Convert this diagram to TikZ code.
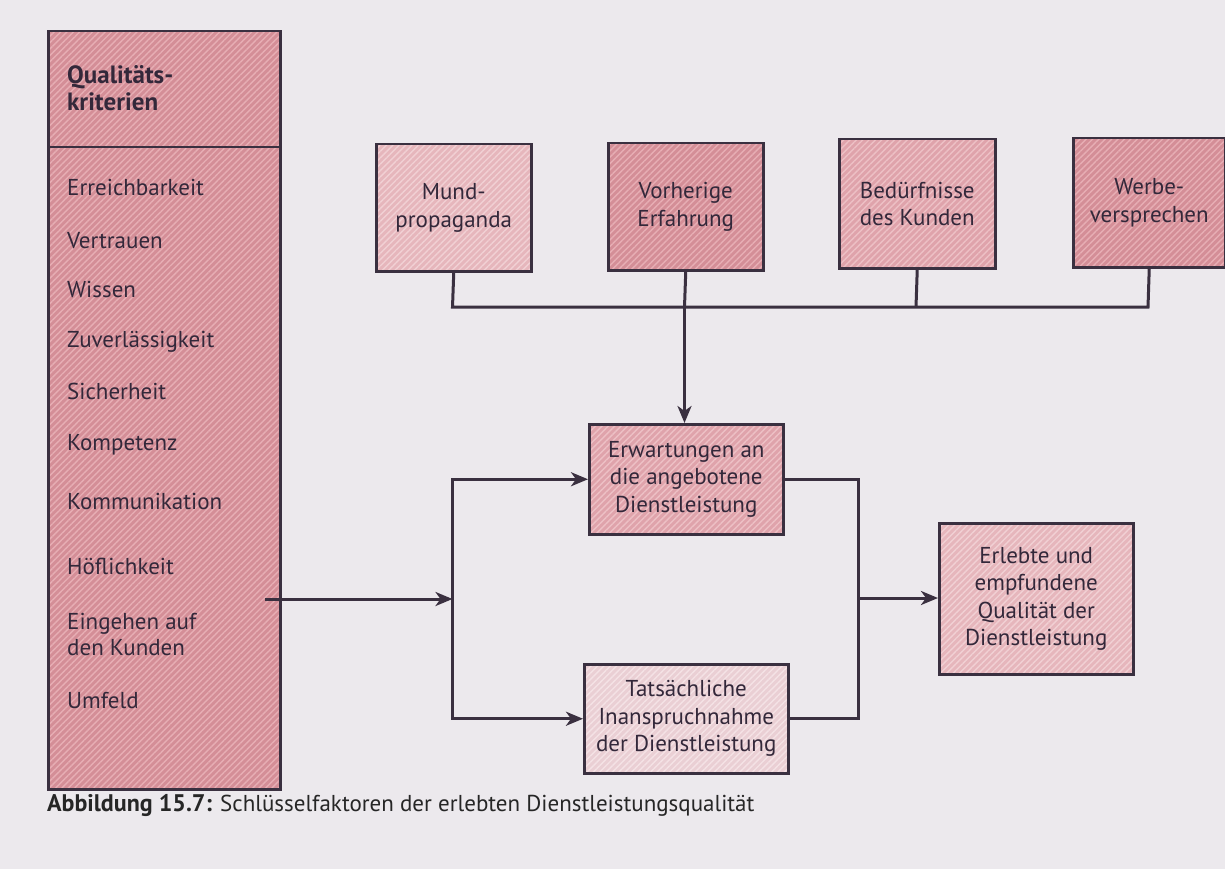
\documentclass[tikz,border=0pt]{standalone}
\usepackage{fontspec}
\setmainfont{PT Sans}
\usetikzlibrary{arrows.meta,patterns.meta}
\definecolor{bgc}{HTML}{ECE9ED}
\definecolor{linec}{HTML}{3A3040}
\definecolor{textc}{HTML}{33283A}
\definecolor{darkf}{HTML}{D48E97}
\definecolor{darks}{HTML}{E7AEB4}
\definecolor{midf}{HTML}{DFA3AB}
\definecolor{mids}{HTML}{EDC0C5}
\definecolor{lightf}{HTML}{E6B6BC}
\definecolor{lights}{HTML}{F1D0D4}
\definecolor{palef}{HTML}{EACFD4}
\definecolor{pales}{HTML}{F4E2E5}
\tikzset{
  box/.style={draw=linec, line width=2.5pt, text=textc, align=center, inner sep=0pt,
    anchor=north west, font=\fontsize{23}{27.5}\selectfont},
  hatch/.style 2 args={preaction={fill=#1}, preaction={pattern={Lines[angle=45,distance=4.5pt,line width=1.4pt]}, pattern color=#2}},
  item/.style={text=textc, anchor=base west, inner sep=0pt, font=\fontsize{23}{26}\selectfont, align=left},
  conn/.style={draw=linec, line width=3pt},
  arr/.style={conn, -{Stealth[length=17pt,width=14pt,inset=5pt]}}
}
\begin{document}
\begin{tikzpicture}[x=1pt,y=-1pt]
\useasboundingbox (0,0) rectangle (1225,869);
\fill[bgc] (0,0) rectangle (1225,869);

% left column
\node[box, hatch={darkf}{darks}, minimum width=232, minimum height=116] (head) at (47,30) {};
\node[item, anchor=west, font=\fontsize{25}{27}\selectfont\bfseries] (headtxt) at (67,88) {Qualitäts-\\kriterien};
\node[box, hatch={darkf}{darks}, minimum width=232, minimum height=642] (body) at (47,146) {};
\node[item] (i1) at (67,196) {Erreichbarkeit};
\node[item] (i2) at (67,248) {Vertrauen};
\node[item] (i3) at (67,297) {Wissen};
\node[item] (i4) at (67,347) {Zuverlässigkeit};
\node[item] (i5) at (67,399) {Sicherheit};
\node[item] (i6) at (67,450) {Kompetenz};
\node[item] (i7) at (67,509) {Kommunikation};
\node[item] (i8) at (67,574) {Höflichkeit};
\node[item, anchor=west] (i9) at (67,634) {Eingehen auf\\den Kunden};
\node[item] (i10) at (67,708) {Umfeld};

% top boxes
\node[box, hatch={lightf}{lights}, minimum width=155, minimum height=127] (mund) at (375,143) {Mund-\\propaganda};
\node[box, hatch={darkf}{darks}, minimum width=155, minimum height=127] (vorh) at (607,142) {Vorherige\\Erfahrung};
\node[box, hatch={midf}{mids}, minimum width=156, minimum height=129] (bed) at (838,138) {Bedürfnisse\\des Kunden};
\node[box, hatch={darkf}{darks}, minimum width=152, minimum height=129] (werbe) at (1072,137) {Werbe-\\versprechen};

% middle boxes
\node[box, hatch={midf}{mids}, minimum width=194, minimum height=110] (erw) at (588,423) {Erwartungen an\\die angebotene\\Dienstleistung};
\node[box, hatch={palef}{pales}, minimum width=204, minimum height=109] (tats) at (583,663) {Tatsächliche\\Inanspruchnahme\\der Dienstleistung};
\node[box, hatch={lightf}{lights}, minimum width=194, minimum height=151] (erl) at (938,522) {Erlebte und\\empfundene\\Qualität der\\Dienstleistung};

% bus from top boxes
\coordinate (jm) at (452.5,307);
\coordinate (jv) at (684.5,307);
\coordinate (jb) at (916,307);
\coordinate (jw) at (1148,307);
\draw[conn] (mund.south) -- (jm) -- (jw) -- (werbe.south);
\draw[conn] (vorh.south) -- (jv);
\draw[conn] (bed.south) -- (jb);
\draw[arr] (jv) -- (jv |- erw.north);

% left input
\coordinate (lstart) at (265,599);
\coordinate (split) at (452.5,599);
\draw[arr] (lstart) -- (split);
\draw[arr] (split) |- (erw.west);
\draw[arr] (split) |- (tats.west);

% right merge
\coordinate (rj) at (858,598);
\draw[conn] (erw.east) -| (rj) |- (tats.east);
\draw[arr] (rj) -- (rj -| erl.west);

% caption
\node[anchor=base west, inner sep=0pt, text=black!85, font=\fontsize{23}{26}\selectfont] (cap) at (47,811) {\textbf{\fontsize{24}{26}\selectfont Abbildung 15.7:} Schlüsselfaktoren der erlebten Dienstleistungsqualität};
\end{tikzpicture}
\end{document}
